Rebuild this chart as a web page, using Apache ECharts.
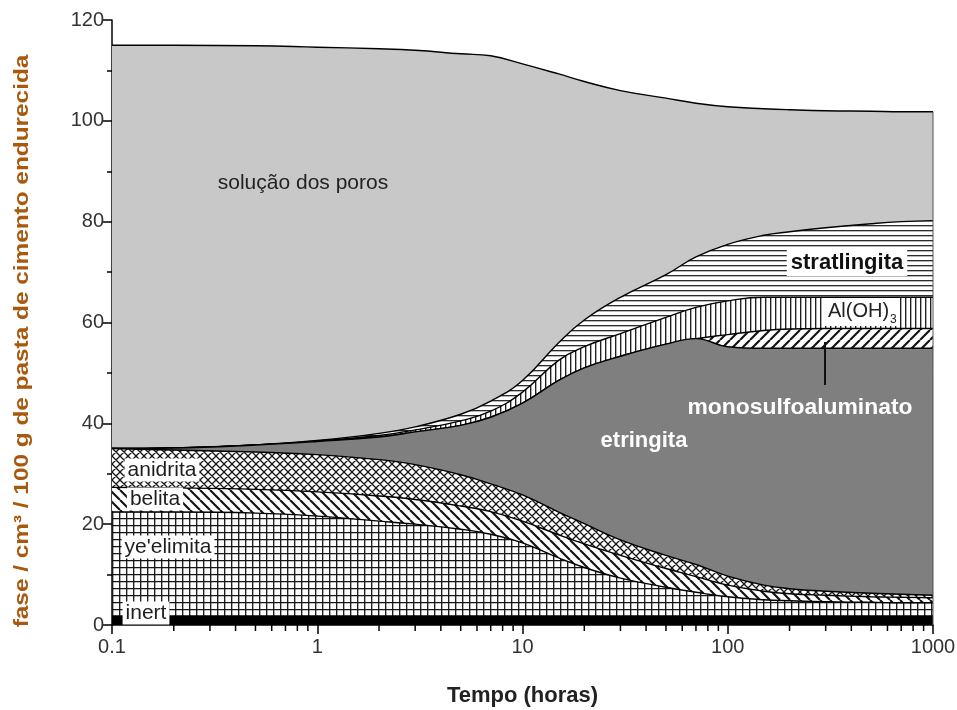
<!DOCTYPE html>
<html>
<head>
<meta charset="utf-8">
<script src="https://cdn.jsdelivr.net/npm/echarts@6/dist/echarts.min.js"></script>
<style>
  html, body { margin: 0; padding: 0; background: #fff; }
  #chart { width: 957px; height: 710px; }
</style>
</head>
<body>
<div id="chart"></div>
<script>
// Hydration time (hours), log scale
const hours = [0.1, 0.2, 0.5, 1, 2, 3, 5, 7, 10, 15, 20, 30, 50, 70, 100, 150, 200, 300, 500, 700, 1000];

// Phase volumes (cm³ / 100 g of hardened paste), bottom to top
const inert      = [1.8, 1.8, 1.8, 1.8, 1.8, 1.8, 1.8, 1.8, 1.8, 1.8, 1.8, 1.8, 1.8, 1.8, 1.8, 1.8, 1.8, 1.8, 1.8, 1.8, 1.8];
const yeelimita  = [20.6, 20.6, 20.4, 19.8, 18.8, 18.2, 17.2, 16.2, 14.5, 11.5, 9.6, 7.5, 5.7, 4.7, 3.8, 3.2, 3.0, 2.8, 2.7, 2.6, 2.6];
const belita     = [4.9, 4.8, 4.7, 4.8, 5.0, 4.9, 4.6, 4.5, 4.3, 4.6, 4.7, 4.5, 3.7, 3.1, 2.3, 1.7, 1.4, 1.3, 1.1, 1.1, 1.0];
const anidrita   = [7.7, 7.5, 7.4, 7.4, 7.2, 6.9, 6.2, 5.5, 5.2, 4.5, 4.0, 3.1, 2.6, 2.4, 1.8, 1.2, 1.0, 0.8, 0.7, 0.6, 0.5];
const etringita  = [0.0, 0.4, 1.4, 2.6, 4.5, 6.5, 9.8, 13.2, 18.2, 26.1, 30.9, 36.4, 41.9, 44.8, 45.5, 47.0, 47.7, 48.2, 48.6, 48.8, 49.0];
const monosulfo  = [0, 0, 0, 0, 0, 0, 0, 0, 0, 0, 0, 0, 0, 0, 2.4, 3.5, 3.8, 3.9, 3.9, 3.9, 3.9];
const aloh3      = [0, 0, 0, 0.1, 0.3, 0.4, 0.9, 1.2, 2.2, 4.0, 4.2, 4.5, 5.3, 6.2, 6.7, 6.6, 6.3, 6.2, 6.2, 6.2, 6.2];
const stratling  = [0, 0, 0, 0.1, 0.4, 0.6, 1.3, 2.0, 2.3, 3.5, 5.3, 7.2, 8.5, 10.0, 11.2, 12.3, 13.0, 13.8, 14.6, 15.0, 15.2];
const solucao    = [80.0, 79.9, 79.2, 78.0, 76.3, 74.7, 71.5, 68.5, 62.8, 53.3, 47.3, 41.0, 35.0, 30.5, 27.3, 25.1, 24.2, 23.2, 22.3, 21.8, 21.6];

// Axis ticks
const yTicks = [0, 20, 40, 60, 80, 100, 120];
const xMinorTicks = [0.2, 0.3, 0.4, 0.5, 0.6, 0.7, 0.8, 0.9,
                     2, 3, 4, 5, 6, 7, 8, 9,
                     20, 30, 40, 50, 60, 70, 80, 90,
                     200, 300, 400, 500, 600, 700, 800, 900];

const FONT = '"Liberation Sans", Arial, Helvetica, sans-serif';

// Hatch tiles
function tile(size, paint) {
  const c = document.createElement('canvas');
  c.width = size; c.height = size;
  const g = c.getContext('2d');
  g.fillStyle = '#fff';
  g.fillRect(0, 0, size, size);
  g.strokeStyle = '#151515';
  paint(g, size);
  return { image: c, repeat: 'repeat' };
}
const gridFill = tile(7, (g, s) => {
  g.lineWidth = 1.3; g.beginPath();
  g.moveTo(0.7, 0); g.lineTo(0.7, s);
  g.moveTo(0, 0.7); g.lineTo(s, 0.7);
  g.stroke();
});
const backslashFill = tile(10, (g, s) => {
  g.lineWidth = 2.2; g.beginPath();
  for (const o of [-s, 0, s]) { g.moveTo(o, 0); g.lineTo(o + s, s); }
  g.stroke();
});
const crossFill = tile(8, (g, s) => {
  g.lineWidth = 1.3; g.beginPath();
  for (const o of [-s, 0, s]) {
    g.moveTo(o, 0); g.lineTo(o + s, s);
    g.moveTo(o, s); g.lineTo(o + s, 0);
  }
  g.stroke();
});
const slashFill = tile(10, (g, s) => {
  g.lineWidth = 2.2; g.beginPath();
  for (const o of [-s, 0, s]) { g.moveTo(o, s); g.lineTo(o + s, 0); }
  g.stroke();
});
const vertFill = tile(5, (g, s) => {
  g.lineWidth = 1.3; g.beginPath();
  g.moveTo(0.7, 0); g.lineTo(0.7, s); g.stroke();
});
const horizFill = tile(5, (g, s) => {
  g.lineWidth = 1.2; g.beginPath();
  g.moveTo(0, 0.7); g.lineTo(s, 0.7); g.stroke();
});

const layers = [
  { name: 'inert',          values: inert,     fill: '#000' },
  { name: "ye'elimita",     values: yeelimita, fill: gridFill },
  { name: 'belita',         values: belita,    fill: backslashFill },
  { name: 'anidrita',       values: anidrita,  fill: crossFill },
  { name: 'etringita',      values: etringita, fill: '#7f7f7f' },
  { name: 'monosulfoaluminato', values: monosulfo, fill: slashFill },
  { name: 'Al(OH)3',        values: aloh3,     fill: vertFill },
  { name: 'stratlingita',   values: stratling, fill: horizFill },
  { name: 'solução dos poros', values: solucao, fill: '#c8c8c8' }
];

// Cumulative upper boundary of each phase
const running = hours.map(() => 0);
layers.forEach(l => {
  l.top = l.values.map((v, k) => {
    running[k] = +(running[k] + v).toFixed(2);
    return running[k];
  });
});

// Paint from the top phase down so each lower band covers the one above it
const series = [];
layers.slice().reverse().forEach((l, i) => {
  series.push({
    name: l.name,
    type: 'line',
    data: hours.map((h, k) => [h, l.top[k]]),
    smooth: 0.45,
    symbol: 'none',
    silent: true,
    z: 2 + i,
    lineStyle: { color: '#000', width: 1.4 },
    areaStyle: { color: l.fill, opacity: 1 }
  });
});

// Right-hand edge of the stacked block
const total = layers[layers.length - 1].top;
series.push({
  type: 'line',
  data: [[hours[hours.length - 1], 0], [hours[hours.length - 1], total[total.length - 1]]],
  symbol: 'none', silent: true, z: 20,
  lineStyle: { color: '#555', width: 1 }
});

// Minor ticks of the logarithmic time axis
series.push({
  type: 'custom',
  data: xMinorTicks.map(v => [v, 0]),
  clip: false, silent: true, z: 30,
  renderItem: (params, api) => {
    const p = api.coord([api.value(0), 0]);
    return {
      type: 'line',
      shape: { x1: p[0], y1: p[1], x2: p[0], y2: p[1] + 6 },
      style: { stroke: '#000', lineWidth: 1.5 }
    };
  }
});

function boxLabel(text, cx, cy) {
  return {
    type: 'text', x: cx, y: cy, z: 100,
    style: {
      text: text, align: 'center', verticalAlign: 'middle',
      font: '21px ' + FONT, fill: '#1e1e1e',
      backgroundColor: '#fff', padding: [1, 3, 1, 3]
    }
  };
}

const chart = echarts.init(document.getElementById('chart'), null, { renderer: 'canvas' });
chart.setOption({
  animation: false,
  backgroundColor: '#fff',
  grid: { left: 112, right: 24, top: 20, bottom: 85, outerBoundsMode: 'none', containLabel: false },
  xAxis: {
    type: 'log', logBase: 10, min: 0.1, max: 1000,
    axisLine: { show: true, onZero: false, lineStyle: { color: '#000', width: 1.5 } },
    axisTick: { show: true, inside: false, length: 9, lineStyle: { color: '#000', width: 1.5 } },
    axisLabel: {
      fontFamily: FONT, fontSize: 20, color: '#333', margin: 12,
      formatter: v => String(+(+v).toPrecision(3))
    },
    splitLine: { show: false },
    name: 'Tempo (horas)', nameLocation: 'middle', nameGap: 60,
    nameTextStyle: { fontFamily: FONT, fontSize: 22, fontWeight: 'bold', color: '#222' }
  },
  yAxis: {
    type: 'value', min: yTicks[0], max: yTicks[yTicks.length - 1], interval: yTicks[1] - yTicks[0],
    axisLine: { show: true, lineStyle: { color: '#000', width: 1.5 } },
    axisTick: { show: true, inside: false, length: 9, lineStyle: { color: '#000', width: 1.5 } },
    minorTick: { show: true, splitNumber: 2, length: 5, lineStyle: { color: '#000', width: 1.5 } },
    axisLabel: { fontFamily: FONT, fontSize: 20, color: '#333', margin: 8 },
    splitLine: { show: false }
  },
  series: series,
  graphic: [
    { type: 'text', x: 22, y: 341, rotation: Math.PI / 2, scaleX: 1.16, z: 100,
      style: { text: 'fase / cm³ / 100 g de pasta de cimento endurecida', align: 'center',
               verticalAlign: 'middle', font: 'bold 21px ' + FONT, fill: '#a8590d' } },
    { type: 'text', x: 303, y: 183, z: 100,
      style: { text: 'solução dos poros', align: 'center', verticalAlign: 'middle',
               font: '21px ' + FONT, fill: '#222' } },
    { type: 'text', x: 847, y: 263, z: 100,
      style: { text: 'stratlingita', align: 'center', verticalAlign: 'middle',
               font: 'bold 22px ' + FONT, fill: '#111', backgroundColor: '#fff', padding: [2, 4, 2, 4] } },
    { type: 'rect', z: 100, shape: { x: 824, y: 298, width: 76, height: 28 }, style: { fill: '#fff' } },
    { type: 'text', x: 828, y: 311, z: 101,
      style: { text: 'Al(OH)', align: 'left', verticalAlign: 'middle', font: '20px ' + FONT, fill: '#222' } },
    { type: 'text', x: 890, y: 320, z: 101,
      style: { text: '3', align: 'left', verticalAlign: 'middle', font: '12px ' + FONT, fill: '#222' } },
    { type: 'line', z: 100, shape: { x1: 825, y1: 342, x2: 825, y2: 385 },
      style: { stroke: '#111', lineWidth: 2 } },
    { type: 'text', x: 800, y: 408, z: 100, scaleX: 1.04,
      style: { text: 'monosulfoaluminato', align: 'center', verticalAlign: 'middle',
               font: 'bold 22px ' + FONT, fill: '#fff' } },
    { type: 'text', x: 644, y: 441, z: 100,
      style: { text: 'etringita', align: 'center', verticalAlign: 'middle',
               font: 'bold 22px ' + FONT, fill: '#fff' } },
    boxLabel('anidrita', 162, 470),
    boxLabel('belita', 155, 499),
    boxLabel("ye'elimita", 168, 547),
    boxLabel('inert', 146, 613)
  ]
});
</script>
</body>
</html>
